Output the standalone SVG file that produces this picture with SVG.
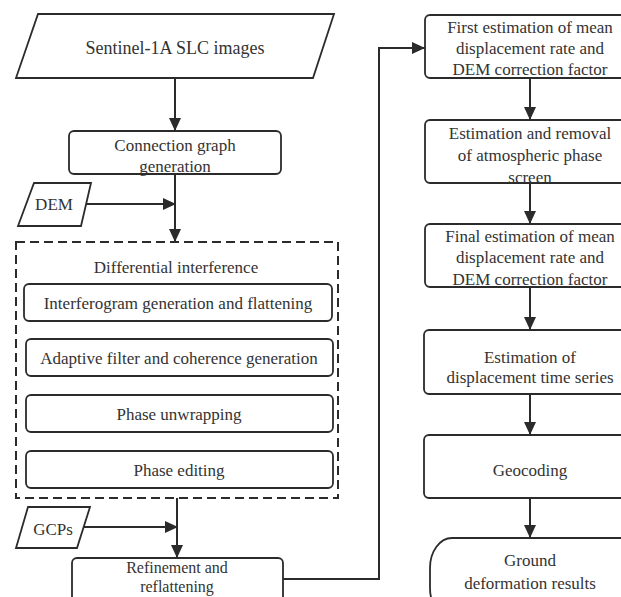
<svg xmlns="http://www.w3.org/2000/svg" width="621" height="597" viewBox="0 0 621 597">
<defs>
<marker id="ah" markerUnits="userSpaceOnUse" markerWidth="13" markerHeight="12" refX="13" refY="6" orient="auto">
<path d="M0,0 L13,6 L0,12 z" fill="#2b2b2b"/>
</marker>
<style>
.s{fill:#fff;stroke:#2b2b2b;stroke-width:1.8}
.d{fill:none;stroke:#2b2b2b;stroke-width:2;stroke-dasharray:9,5}
.t{font-size:17px;fill:#333;text-anchor:middle}
.c{fill:none;stroke:#2b2b2b;stroke-width:2}
</style>
</defs>
<rect width="621" height="597" fill="#fff"/>
<g id="connectors">
<line class="c" x1="175" y1="78" x2="175" y2="131" marker-end="url(#ah)"/>
<line class="c" x1="175" y1="174" x2="175" y2="242" marker-end="url(#ah)"/>
<line class="c" x1="86" y1="204" x2="176" y2="204" marker-end="url(#ah)"/>
<line class="c" x1="177" y1="498" x2="177" y2="558" marker-end="url(#ah)"/>
<line class="c" x1="82" y1="527" x2="178" y2="527" marker-end="url(#ah)"/>
<polyline class="c" points="283,579 379,579 379,48 425,48" marker-end="url(#ah)"/>
<line class="c" x1="530" y1="78" x2="530" y2="120" marker-end="url(#ah)"/>
<line class="c" x1="530" y1="183" x2="530" y2="224" marker-end="url(#ah)"/>
<line class="c" x1="530" y1="287" x2="530" y2="330" marker-end="url(#ah)"/>
<line class="c" x1="530" y1="394" x2="530" y2="435" marker-end="url(#ah)"/>
<line class="c" x1="530" y1="498" x2="530" y2="538" marker-end="url(#ah)"/>
</g>
<g font-family="'Liberation Serif', 'DejaVu Serif', serif">
<g id="sentinel">
<polygon class="s" points="38,14 334,14 313,78 16,78"/>
<text class="t" x="175" y="54" style="font-size:18px">Sentinel-1A SLC images</text>
</g>
<g id="connection">
<rect class="s" x="69" y="131" width="212" height="43" rx="5"/>
<text class="t" x="175" y="151">Connection graph</text>
<text class="t" x="175" y="172">generation</text>
</g>
<g id="dem">
<polygon class="s" points="34,183 91,183 81,226 18,226"/>
<text class="t" x="54" y="210">DEM</text>
</g>
<g id="differential">
<rect class="d" x="16" y="242" width="322" height="256"/>
<text class="t" x="176" y="273">Differential interference</text>
</g>
<g id="interferogram">
<rect class="s" x="24" y="284" width="308" height="37" rx="5"/>
<text class="t" x="178" y="309">Interferogram generation and flattening</text>
</g>
<g id="adaptive">
<rect class="s" x="26" y="339" width="307" height="37" rx="5"/>
<text class="t" x="179" y="364">Adaptive filter and coherence generation</text>
</g>
<g id="unwrapping">
<rect class="s" x="26" y="395" width="307" height="37" rx="5"/>
<text class="t" x="179" y="420">Phase unwrapping</text>
</g>
<g id="editing">
<rect class="s" x="26" y="451" width="307" height="37" rx="5"/>
<text class="t" x="179" y="476">Phase editing</text>
</g>
<g id="gcps">
<polygon class="s" points="28,507 90,507 77,548 16,548"/>
<text class="t" x="53" y="535">GCPs</text>
</g>
<g id="refinement">
<rect class="s" x="72" y="558" width="211" height="60" rx="5"/>
<text class="t" x="177" y="573" style="font-size:16px">Refinement and</text>
<text class="t" x="177" y="592" style="font-size:16px">reflattening</text>
</g>
<g id="first">
<rect class="s" x="425" y="15" width="215" height="63" rx="5"/>
<text class="t" x="530" y="33">First estimation of mean</text>
<text class="t" x="530" y="54">displacement rate and</text>
<text class="t" x="530" y="75">DEM correction factor</text>
</g>
<g id="atmo">
<rect class="s" x="425" y="120" width="215" height="63" rx="5"/>
<text class="t" x="530" y="139">Estimation and removal</text>
<text class="t" x="530" y="161">of atmospheric phase</text>
<text class="t" x="530" y="183">screen</text>
</g>
<g id="final">
<rect class="s" x="425" y="224" width="215" height="63" rx="5"/>
<text class="t" x="530" y="242">Final estimation of mean</text>
<text class="t" x="530" y="263">displacement rate and</text>
<text class="t" x="530" y="285">DEM correction factor</text>
</g>
<g id="timeseries">
<rect class="s" x="424" y="330" width="216" height="64" rx="5"/>
<text class="t" x="530" y="363">Estimation of</text>
<text class="t" x="530" y="383">displacement time series</text>
</g>
<g id="geocoding">
<rect class="s" x="424" y="435" width="216" height="63" rx="5"/>
<text class="t" x="530" y="476">Geocoding</text>
</g>
<g id="results">
<rect class="s" x="430" y="538" width="220" height="80" rx="22" ry="30"/>
<text class="t" x="530" y="566">Ground</text>
<text class="t" x="530" y="589">deformation results</text>
</g>
</g>
</svg>
